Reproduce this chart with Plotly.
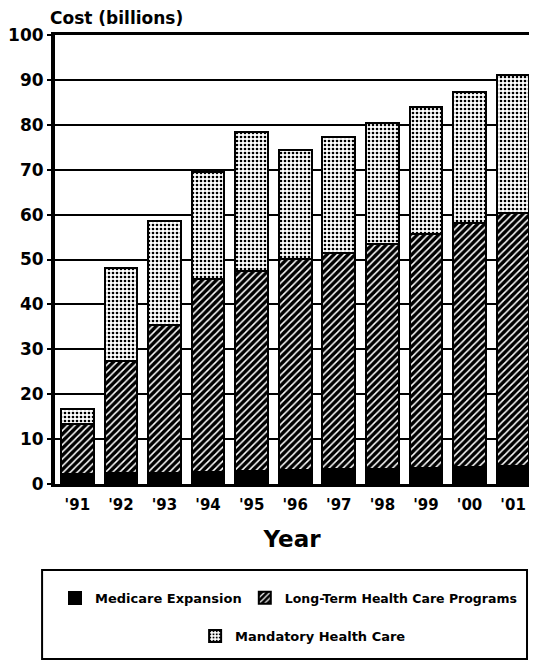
import plotly.graph_objects as go

years = ["'91", "'92", "'93", "'94", "'95", "'96", "'97", "'98", "'99", "'00", "'01"]
medicare_expansion = [2.2, 2.4, 2.5, 2.6, 2.8, 3.1, 3.3, 3.4, 3.6, 3.8, 4.0]
long_term_care = [11.2, 25.0, 32.9, 43.1, 44.6, 47.0, 48.1, 50.0, 52.1, 54.3, 56.4]
mandatory_care = [3.4, 20.6, 23.1, 23.8, 31.1, 24.4, 25.9, 26.9, 28.3, 29.2, 30.6]
y_ticks = [0, 10, 20, 30, 40, 50, 60, 70, 80, 90, 100]

# page body has an 8px margin and the visible width ends near x=529
OFF = 8
VIS_W, WIN_H = 529, 669
W, H = VIS_W - OFF, WIN_H - 2 * OFF
PLOT_L, PLOT_T, PLOT_B = 52, 35, 484          # window pixels
L, T, R = PLOT_L - OFF, PLOT_T - OFF, 0
B = H - (PLOT_B - OFF)
PW, PH = W - L - R, H - T - B


def px(x):
    return (x - OFF - L) / PW


def py(y):
    return (PLOT_B - y) / PH


FONT = "DejaVu Sans"
outline = dict(color="black", width=2)

fig = go.Figure()
fig.add_trace(go.Bar(
    x=years, y=medicare_expansion, name="Medicare Expansion",
    marker=dict(color="black", line=outline), legend="legend",
    showlegend=True,
))
fig.add_trace(go.Bar(
    x=years, y=long_term_care, name="Long-Term Health Care Programs",
    marker=dict(color="black", line=outline,
                pattern=dict(shape="/", fgcolor="white", bgcolor="black",
                             size=5, solidity=0.3, fillmode="replace")),
    legend="legend2", showlegend=True,
))
fig.add_trace(go.Bar(
    x=years, y=mandatory_care, name="Mandatory Health Care",
    marker=dict(color="white", line=outline,
                pattern=dict(shape=".", fgcolor="black", bgcolor="white",
                             size=4, solidity=0.35, fillmode="replace")),
    legend="legend3", showlegend=True,
))


def leg(x, y, size=13):
    return dict(x=x, y=y, font=dict(family=FONT, size=size, color="black",
                                    weight="bold"),
                bgcolor="rgba(0,0,0,0)", borderwidth=0, xanchor="left",
                yanchor="middle", orientation="h", visible=True)


fig.update_layout(
    width=W, height=H, showlegend=True,
    margin=dict(l=L, r=R, t=T, b=B, pad=0),
    paper_bgcolor="white", plot_bgcolor="white",
    barmode="stack", bargap=0.25,
    font=dict(family=FONT, color="black", weight="bold"),
    title=dict(text="Cost (billions)", x=(50 - OFF) / W, xref="container",
               xanchor="left", y=1 - (18 - OFF) / H, yref="container",
               yanchor="middle",
               font=dict(family=FONT, size=17, color="black", weight="bold")),
    xaxis=dict(
        range=[-0.513, 10.365], showgrid=False, showline=True, linecolor="black",
        linewidth=3, mirror=True, ticks="", ticklabelstandoff=5,
        tickfont=dict(family=FONT, size=15, color="black", weight="bold"),
        title=dict(text="Year", standoff=18,
                   font=dict(family=FONT, size=23, color="black", weight="bold")),
    ),
    yaxis=dict(
        range=[0, 100], tickvals=y_ticks, showgrid=True, gridcolor="black",
        gridwidth=1.5, zeroline=False, showline=True, linecolor="black",
        linewidth=4, ticks="outside", ticklen=4, tickwidth=2, tickcolor="black",
        tickfont=dict(family=FONT, size=17, color="black", weight="bold"),
    ),
    legend=leg(0, py(598)),
    legend2=leg(px(243), py(598), 12.5),
    legend3=leg(px(193), py(636)),
    shapes=[dict(type="rect", xref="paper", yref="paper",
                 x0=px(39), x1=px(527), y0=py(659), y1=py(570),
                 line=dict(color="black", width=2), fillcolor="rgba(0,0,0,0)")],
)

fig.write_html("out.html")
